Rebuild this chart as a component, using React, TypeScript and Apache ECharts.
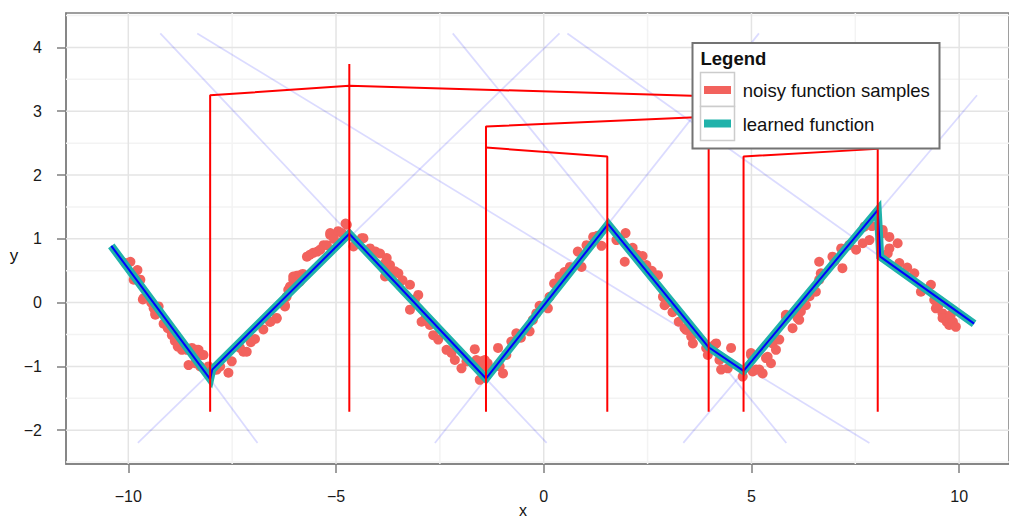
import React, { useEffect, useRef } from "react";
import * as echarts from "echarts";

// ---- axes ----
const X_MIN = -11.5;
const X_MAX = 11.2;
const Y_MIN = -2.53;
const Y_MAX = 4.54;
const X_TICKS = [-10, -5, 0, 5, 10];
const Y_TICKS = [-2, -1, 0, 1, 2, 3, 4];
const X_MINOR = [-7.5, -2.5, 2.5, 7.5];
const Y_MINOR = [-2.5, -1.5, -0.5, 0.5, 1.5, 2.5, 3.5, 4.5];

// ---- learned function (piecewise linear) ----
const learnedX = [-10.41, -8.03, -7.98, -4.68, -1.39, 1.55, 3.97, 4.81, 8.04, 8.1, 10.36];
const learnedY = [0.89, -1.2, -1.05, 1.08, -1.19, 1.23, -0.7, -1.07, 1.45, 0.72, -0.33];

// ---- faint unit lines (start/end) ----
const unitX = [
  [-10.41, -6.89],
  [-9.77, 0.38],
  [-9.23, 0.07],
  [-2.62, 5.18],
  [-2.19, 5.84],
  [-8.34, 7.84],
  [3.36, 10.43],
  [0.57, 10.36],
];
const unitY = [
  [0.89, -2.2],
  [-2.2, 4.22],
  [4.22, -2.2],
  [-2.2, 4.22],
  [4.22, -2.2],
  [4.22, -2.2],
  [-2.2, 3.25],
  [4.22, -0.33],
];

// ---- red connector polylines ----
const redPaths = [
  [[-8.03, -1.71], [-8.03, 3.25], [-4.68, 3.4], [3.97, 3.235]],
  [[-4.68, -1.71], [-4.68, 3.74]],
  [[-1.39, -1.71], [-1.39, 2.76], [8.04, 3.03]],
  [[-1.39, 2.43], [1.53, 2.29], [1.53, -1.71]],
  [[3.97, -1.71], [3.97, 3.235]],
  [[4.81, -1.71], [4.81, 2.29], [8.04, 2.41]],
  [[8.04, -1.71], [8.04, 3.03]],
];

// ---- noisy samples ----
const samples = [
  [-10.07, 0.62], [-9.95, 0.64], [-9.78, 0.51], [-9.71, 0.36], [-9.87, 0.36], [-9.65, 0.05], [-9.63, 0.07],
  [-9.45, 0.0], [-9.39, -0.09], [-9.35, -0.19], [-9.27, -0.06], [-9.35, -0.17], [-9.15, -0.33], [-9.05, -0.4],
  [-8.95, -0.51], [-8.95, -0.48], [-8.88, -0.6], [-8.81, -0.69], [-8.71, -0.74], [-8.59, -0.74], [-8.47, -0.71],
  [-8.35, -0.74], [-8.31, -0.74], [-8.23, -0.82], [-8.19, -0.82], [-8.55, -0.98], [-8.39, -0.95], [-8.27, -1.0],
  [-8.07, -1.0], [-7.91, -1.05], [-7.87, -1.05], [-7.79, -1.0], [-7.59, -1.1], [-7.51, -0.92], [-7.23, -0.77],
  [-7.31, -0.71], [-7.15, -0.77], [-6.95, -0.57], [-7.05, -0.62],
  [-6.75, -0.42], [-6.59, -0.3], [-6.43, -0.24], [-6.43, -0.25], [-6.58, -0.3], [-6.23, -0.06], [-6.23, -0.04],
  [-6.19, 0.09], [-6.15, 0.2], [-6.11, 0.25], [-6.03, 0.41], [-6.03, 0.36], [-6.0, 0.38], [-5.95, 0.42],
  [-5.87, 0.43], [-5.87, 0.33], [-5.8, 0.45], [-5.7, 0.72], [-5.63, 0.75], [-5.55, 0.78], [-5.45, 0.8],
  [-5.38, 0.83], [-5.3, 0.9], [-5.22, 0.9], [-5.14, 1.06], [-5.14, 1.09], [-5.05, 1.0], [-4.95, 1.12],
  [-4.86, 1.09], [-4.77, 1.24], [-4.74, 1.22], [-4.58, 0.88], [-4.38, 1.01], [-4.34, 1.01],
  [-4.18, 0.85], [-4.05, 0.8], [-3.94, 0.77], [-3.78, 0.7], [-3.7, 0.59], [-3.82, 0.41], [-3.58, 0.49],
  [-3.82, 0.62], [-3.74, 0.51], [-3.5, 0.46], [-3.4, 0.35], [-3.22, 0.28], [-3.02, 0.12], [-3.1, 0.05],
  [-3.22, -0.11], [-2.94, -0.3], [-2.85, -0.25], [-2.74, -0.35], [-2.66, -0.51], [-2.54, -0.58], [-2.34, -0.74],
  [-2.22, -0.79], [-2.14, -0.9], [-1.98, -1.03], [-1.86, -0.92], [-1.66, -0.73], [-1.62, -0.9], [-1.5, -0.92],
  [-1.42, -0.9], [-1.54, -1.21], [-1.45, -1.0], [-1.35, -0.95], [-1.3, -1.05], [-1.55, -1.05],
  [-1.1, -0.71], [-1.06, -1.0], [-0.98, -1.11], [-0.9, -0.82], [-0.78, -0.61], [-0.66, -0.48], [-0.55, -0.55],
  [-0.34, -0.45], [-0.26, -0.27], [-0.18, -0.17], [-0.1, -0.05], [0.1, -0.09], [0.14, 0.09], [0.25, 0.3],
  [0.38, 0.41], [0.5, 0.48], [0.63, 0.56], [0.91, 0.56], [0.82, 0.8], [1.03, 0.9], [1.19, 1.03], [1.3, 1.05],
  [1.39, 0.89],
  [1.75, 0.98], [1.97, 1.09], [2.14, 0.86], [2.25, 0.75], [2.38, 0.73], [1.95, 0.64], [2.47, 0.59], [2.6, 0.5],
  [2.75, 0.43], [2.87, 0.09], [2.95, -0.01], [2.91, -0.04], [3.1, -0.15], [3.25, -0.3], [3.39, -0.4],
  [3.43, -0.43], [3.55, -0.53], [3.59, -0.64], [3.91, -0.71], [3.95, -0.82], [4.11, -0.66], [4.15, -0.64],
  [4.23, -0.9], [4.27, -1.05], [4.43, -1.03], [4.51, -0.71], [4.79, -1.16],
  [4.99, -0.79], [4.99, -0.82], [5.03, -1.08], [5.11, -1.05], [5.19, -1.05], [5.27, -1.11], [5.35, -0.87],
  [5.39, -0.85], [5.47, -0.95], [5.51, -0.64], [5.59, -0.74], [5.67, -0.58], [5.83, -0.19], [5.83, -0.22],
  [5.99, -0.4], [6.11, -0.24], [6.15, -0.27], [6.19, -0.14], [6.31, -0.04], [6.4, 0.1], [6.55, 0.17],
  [6.63, 0.36], [6.67, 0.46], [6.63, 0.64], [6.95, 0.72], [7.0, 0.65], [7.16, 0.85], [7.19, 0.54],
  [7.35, 0.9], [7.52, 0.83], [7.68, 0.93], [7.72, 1.19], [7.84, 0.98], [7.9, 1.2],
  [8.16, 1.09], [8.16, 1.14], [8.32, 1.03], [8.32, 0.85], [8.52, 0.93], [8.28, 0.77], [8.56, 0.62],
  [8.75, 0.55], [8.92, 0.46], [9.08, 0.17], [9.32, 0.28], [9.4, 0.04], [9.44, -0.09], [9.5, -0.05],
  [9.6, -0.17], [9.6, -0.24], [9.7, -0.3], [9.8, -0.19], [9.76, -0.35], [9.85, -0.3], [9.92, -0.38],
];

const LEGEND_TITLE = "Legend";
const LEGEND_LABELS = ["noisy function samples", "learned function"];

const RED_PT = "#F2625D";
const TEAL = "#20B2AA";
const FONT = '"Liberation Sans", Arial, sans-serif';

const fmt = (v: number) => (v < 0 ? "\u2212" + Math.abs(v) : String(v));

function buildOption() {
  const series: any[] = [];
  const gridLine = (data: number[][], color: string, width: number) => ({
    type: "line",
    data,
    symbol: "none",
    silent: true,
    z: 0,
    lineStyle: { color, width },
  });
  X_MINOR.forEach((v) => series.push(gridLine([[v, Y_MIN], [v, Y_MAX]], "#f3f3f3", 1.5)));
  Y_MINOR.forEach((v) => series.push(gridLine([[X_MIN, v], [X_MAX, v]], "#f3f3f3", 1.5)));
  X_TICKS.forEach((v) => series.push(gridLine([[v, Y_MIN], [v, Y_MAX]], "#e4e4e4", 1.5)));
  Y_TICKS.forEach((v) => series.push(gridLine([[X_MIN, v], [X_MAX, v]], "#e4e4e4", 1.5)));

  unitX.forEach((xs, i) => {
    series.push({
      type: "line",
      data: [[xs[0], unitY[i][0]], [xs[1], unitY[i][1]]],
      symbol: "none",
      silent: true,
      z: 1,
      lineStyle: { color: "rgba(0,0,255,0.14)", width: 1.8 },
    });
  });

  series.push({
    type: "scatter",
    data: samples,
    symbolSize: 10,
    silent: true,
    z: 2,
    itemStyle: { color: RED_PT, opacity: 1 },
  });

  const learned = learnedX.map((x, i) => [x, learnedY[i]]);
  series.push({
    type: "line",
    data: learned,
    symbol: "none",
    silent: true,
    z: 3,
    lineStyle: { color: TEAL, width: 8, cap: "butt", join: "miter" },
  });
  series.push({
    type: "line",
    data: learned,
    symbol: "none",
    silent: true,
    z: 4,
    lineStyle: { color: "#0000ff", width: 2 },
  });

  redPaths.forEach((p) => {
    series.push({
      type: "line",
      data: p,
      symbol: "none",
      silent: true,
      z: 5,
      lineStyle: { color: "#ff0000", width: 2 },
    });
  });

  const txt = (text: string, x: number, y: number, size: number, extra: any = {}) => ({
    type: "text",
    z: 101,
    style: {
      text,
      x,
      y,
      font: `${extra.bold ? "bold " : ""}${size}px ${FONT}`,
      fill: "#111",
      textAlign: extra.align || "left",
      textVerticalAlign: "middle",
      verticalAlign: "middle",
    },
  });

  const graphic: any[] = [
    {
      type: "rect",
      z: 100,
      shape: { x: 692.5, y: 43, width: 247, height: 105.5 },
      style: { fill: "#ffffff", stroke: "#737373", lineWidth: 2 },
    },
    txt(LEGEND_TITLE, 700.5, 58.7, 18.5, { bold: true }),
    {
      type: "rect",
      z: 101,
      shape: { x: 700.5, y: 72.5, width: 34, height: 34 },
      style: { fill: "#ffffff", stroke: "#cccccc", lineWidth: 1.5 },
    },
    {
      type: "rect",
      z: 101,
      shape: { x: 700.5, y: 106.5, width: 34, height: 34 },
      style: { fill: "#ffffff", stroke: "#cccccc", lineWidth: 1.5 },
    },
    {
      type: "rect",
      z: 102,
      shape: { x: 704, y: 86, width: 27, height: 8 },
      style: { fill: RED_PT },
    },
    {
      type: "rect",
      z: 102,
      shape: { x: 704, y: 119.5, width: 27, height: 8 },
      style: { fill: TEAL },
    },
    txt(LEGEND_LABELS[0], 742.7, 90.5, 18.5),
    txt(LEGEND_LABELS[1], 742.7, 124.5, 18.5),
    txt("y", 14, 255.5, 17, { align: "center" }),
    txt("x", 523, 510, 16, { align: "center" }),
  ];

  return {
    animation: false,
    backgroundColor: "#ffffff",
    grid: {
      left: 66,
      top: 13,
      width: 944,
      height: 451,
      show: true,
      borderColor: "#7f7f7f",
      borderWidth: 1.5,
      backgroundColor: "transparent",
    },
    xAxis: {
      type: "value",
      min: X_MIN,
      max: X_MAX,
      axisLine: { show: true, onZero: false, lineStyle: { color: "#7f7f7f", width: 1.5 } },
      axisTick: { show: true, length: 9, customValues: X_TICKS, lineStyle: { color: "#7f7f7f", width: 1.5 } },
      axisLabel: {
        customValues: X_TICKS,
        formatter: fmt,
        fontSize: 16,
        fontFamily: FONT,
        color: "#1a1a1a",
        margin: 24,
      },
      splitLine: { show: false },
    },
    yAxis: {
      type: "value",
      min: Y_MIN,
      max: Y_MAX,
      axisLine: { show: true, onZero: false, lineStyle: { color: "#7f7f7f", width: 1.5 } },
      axisTick: { show: true, length: 9, customValues: Y_TICKS, lineStyle: { color: "#7f7f7f", width: 1.5 } },
      axisLabel: {
        customValues: Y_TICKS,
        formatter: fmt,
        fontSize: 16,
        fontFamily: FONT,
        color: "#1a1a1a",
        margin: 24,
      },
      splitLine: { show: false },
    },
    series,
    graphic,
  };
}

export default function App() {
  const ref = useRef<HTMLDivElement>(null);
  useEffect(() => {
    if (!ref.current) return;
    const chart = echarts.init(ref.current, null, { renderer: "svg" });
    chart.setOption(buildOption() as any);
    return () => chart.dispose();
  }, []);
  return (
    <div
      ref={ref}
      style={{ position: "fixed", left: 0, top: 0, width: 1009, height: 520, background: "#fff" }}
    />
  );
}
